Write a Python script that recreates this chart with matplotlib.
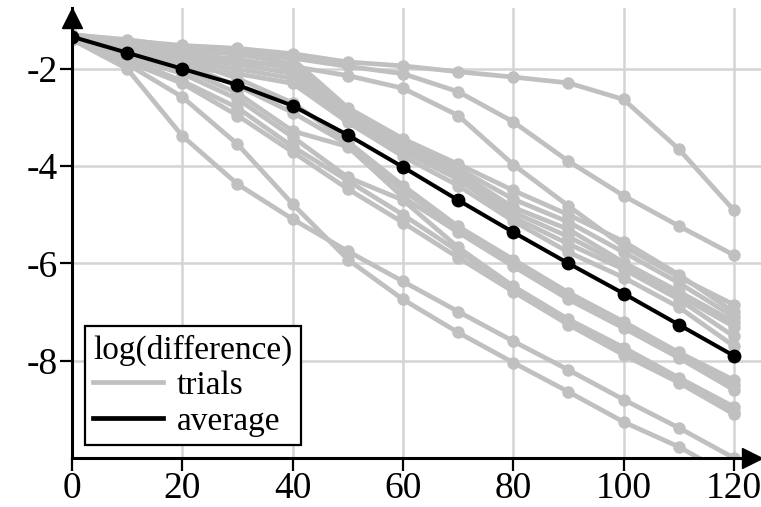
import matplotlib
matplotlib.use("Agg")
import matplotlib.pyplot as plt
import matplotlib.transforms as mtransforms
import numpy as np

plt.rcParams['font.family'] = ['Liberation Serif', 'DejaVu Serif']
plt.rcParams['axes.unicode_minus'] = False

steps = np.arange(0, 121, 10)

# log(difference) for each trial run
trials = [
    [-1.30, -1.42, -1.52, -1.58, -1.69, -1.86, -1.94, -2.06, -2.17, -2.29, -2.63, -3.65, -4.91],
    [-1.30, -1.45, -1.60, -1.68, -1.78, -1.95, -2.10, -2.47, -3.09, -3.90, -4.61, -5.23, -5.83],
    [-1.32, -1.50, -1.70, -1.85, -1.95, -2.14, -2.40, -2.96, -3.97, -4.82, -5.65, -6.28, -6.85],
    [-1.30, -1.40, -1.55, -1.60, -1.80, -2.80, -3.44, -3.96, -4.50, -5.00, -5.55, -6.23, -7.00],
    [-1.31, -1.45, -1.62, -1.70, -1.90, -2.86, -3.50, -4.05, -4.68, -5.15, -5.77, -6.40, -7.10],
    [-1.32, -1.50, -1.70, -1.80, -2.00, -2.92, -3.55, -4.12, -4.85, -5.30, -5.98, -6.58, -7.20],
    [-1.33, -1.55, -1.78, -1.90, -2.10, -3.00, -3.62, -4.20, -4.95, -5.45, -6.05, -6.66, -7.30],
    [-1.34, -1.60, -1.85, -2.00, -2.20, -3.05, -3.70, -4.27, -5.05, -5.60, -6.12, -6.74, -7.50],
    [-1.35, -1.65, -1.95, -2.10, -2.30, -3.10, -3.80, -4.40, -5.13, -5.77, -6.29, -6.90, -7.70],
    [-1.33, -1.60, -1.80, -2.20, -2.70, -3.50, -4.40, -5.24, -5.92, -6.60, -7.20, -7.83, -8.40],
    [-1.34, -1.65, -1.90, -2.35, -2.90, -3.55, -4.50, -5.30, -6.00, -6.67, -7.27, -7.90, -8.50],
    [-1.35, -1.70, -2.00, -2.50, -3.28, -3.60, -4.64, -5.36, -6.06, -6.74, -7.33, -7.94, -8.60],
    [-1.36, -1.75, -2.10, -2.62, -3.40, -4.23, -4.70, -5.67, -6.47, -7.15, -7.73, -8.35, -8.95],
    [-1.37, -1.80, -2.25, -2.80, -3.60, -4.30, -5.00, -5.75, -6.52, -7.20, -7.80, -8.40, -9.05],
    [-1.38, -1.85, -2.30, -2.96, -3.71, -4.47, -5.16, -5.88, -6.58, -7.26, -7.88, -8.45, -9.10],
    [-1.40, -2.00, -3.38, -4.37, -5.09, -5.75, -6.37, -6.99, -7.60, -8.19, -8.80, -9.38, -10.00],
    [-1.38, -1.90, -2.58, -3.55, -4.78, -5.92, -6.74, -7.42, -8.04, -8.64, -9.26, -9.77, -10.40],
]
average = [-1.34, -1.67, -2.00, -2.33, -2.76, -3.36, -4.02, -4.70, -5.36, -6.00, -6.62, -7.26, -7.90]

xticks = [0, 20, 40, 60, 80, 100, 120]
yticks = [-2, -4, -6, -8]

fig = plt.figure(figsize=(7.61, 5.07), dpi=100)
ax = fig.add_axes([72 / 761, 1 - 458 / 507, 1 - 72 / 761, 450 / 507])

gray = '#c0c0c0'
for i, t in enumerate(trials):
    ax.plot(steps, t, color=gray, lw=3.4, marker='o', ms=9, mew=0,
            label='trials' if i == 0 else None, zorder=2)
ax.plot(steps, average, color='black', lw=2.9, marker='o', ms=10, mew=0,
        label='average', zorder=3)

ax.set_xlim(0, 124.9)
ax.set_ylim(-10, -0.75)
ax.set_xticks(xticks)
ax.set_yticks(yticks)
ax.grid(True, color='#d4d4d4', lw=1.8, zorder=0)
ax.set_axisbelow(True)

for side in ['top', 'right']:
    ax.spines[side].set_visible(False)
for side in ['left', 'bottom']:
    ax.spines[side].set_linewidth(2.2)
    ax.spines[side].set_zorder(5)

ax.tick_params(direction='out', length=9, width=1.6, labelsize=27, pad=1)

# arrow heads on the axes
up = mtransforms.offset_copy(ax.transAxes, fig=fig, x=0, y=-9.5, units='dots')
ax.plot([0], [1], marker='^', ms=14, color='black', transform=up,
        clip_on=False, zorder=6)
right = mtransforms.offset_copy(ax.transAxes, fig=fig, x=-9.5, y=0, units='dots')
ax.plot([1], [0], marker='>', ms=14, color='black', transform=right,
        clip_on=False, zorder=6)

leg = ax.legend(loc='lower left', bbox_to_anchor=(0.019, 0.029), borderaxespad=0,
                title='log(difference)', fontsize=24, title_fontsize=24,
                fancybox=False, framealpha=1, edgecolor='black',
                handlelength=2.1, handletextpad=0.4, borderpad=0.25,
                labelspacing=0.15, alignment='left')
leg.get_frame().set_linewidth(1.6)
for h in leg.legend_handles:
    h.set_marker('')
    h.set_linewidth(3.4)

fig.savefig('out.png', dpi=100)
